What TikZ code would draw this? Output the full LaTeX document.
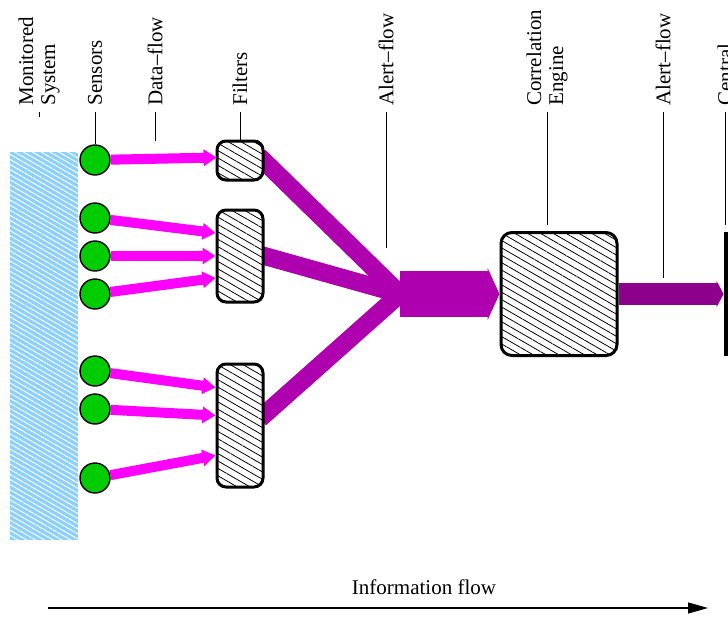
\documentclass[tikz,border=0pt]{standalone}
\usepackage{fontspec}
\setmainfont{Liberation Serif}
\usetikzlibrary{arrows.meta,patterns.meta,backgrounds,calc}

\definecolor{skyblue}{RGB}{140,208,255}
\definecolor{sensorgreen}{RGB}{0,204,0}
\definecolor{dataflow}{RGB}{255,0,255}
\definecolor{alertflow}{RGB}{175,0,175}
\definecolor{alertdark}{RGB}{140,0,140}

\begin{document}
\begin{tikzpicture}[x=0.5pt,y=-0.5pt,
    every node/.style={font=\fontsize{10.5}{11}\selectfont},
    vlabel/.style={rotate=90,anchor=west,inner sep=0pt,align=left},
    leader/.style={line width=0.5pt},
    sensor/.style={circle,draw,line width=0.7pt,fill=sensorgreen,minimum size=15pt,inner sep=0pt},
    filterbox/.style={rectangle,rounded corners=4.5pt,draw,line width=1.5pt,minimum width=23pt,inner sep=0pt,
        preaction={fill=white},pattern={Lines[angle=-30,distance=3.2pt,line width=0.4pt]}},
    datapipe/.style={dataflow,line width=5pt,-{Triangle[length=6.5pt,width=8pt]}},
    alertpipe/.style={alertflow,line width=9pt},
]
        \useasboundingbox (0,0) rectangle (728,616);

        % Monitored system, hatched in white
        \node[rectangle,minimum width=34pt,minimum height=194pt,inner sep=0pt,
            preaction={fill=skyblue},pattern={Lines[angle=-30,distance=2.2pt,line width=0.5pt]},
            pattern color=white] (system) at (44,346) {};

        % Sensors
        \foreach \name/\y in {s1/160,s2/218,s3/256,s4/294,s5/371,s6/409,s7/478}
            \node[sensor] (\name) at (95,\y) {};

        % Filters and the correlation engine
        \node[filterbox,minimum height=19.5pt] (f1) at (240,160.5) {};
        \node[filterbox,minimum height=46pt] (f2) at (240,256) {};
        \node[filterbox,minimum height=61.5pt] (f3) at (240,425.5) {};
        \node[filterbox,minimum width=58pt,minimum height=61.5pt,rounded corners=5.5pt] (engine) at (559,294) {};

        % Central (cut by the page edge)
        \node[fill=black,minimum width=8pt,minimum height=62pt,inner sep=0pt] (central) at (732,294) {};

        % Data-flow from sensors to filters
        \draw[datapipe] (s1) -- ($(f1.west)+(0,-3)$);
        \draw[datapipe] (s2) -- ($(f2.west)+(0,-23)$);
        \draw[datapipe] (s3) -- (f2.west);
        \draw[datapipe] (s4) -- ($(f2.west)+(0,22)$);
        \draw[datapipe] (s5) -- ($(f3.west)+(0,-38)$);
        \draw[datapipe] (s6) -- ($(f3.west)+(0,-10)$);
        \draw[datapipe] (s7) -- ($(f3.west)+(0,30)$);

        % Alert-flow: filters merge into one stream
        \coordinate (merge) at (400,294);
        \begin{pgfonlayer}{background}
            \draw[alertpipe,shorten <=-3pt] (f1.east) -- (merge);
            \draw[alertpipe,shorten <=-3pt] (f2.east) -- (merge);
            \draw[alertpipe,shorten <=-3pt] ($(f3.east)+(0,-11)$) -- (merge);
        \end{pgfonlayer}
        \draw[alertflow,line width=23pt,-{Triangle[length=6pt,width=26pt]}] (merge) -- (engine.west);
        \draw[alertdark,line width=11pt,-{Triangle[length=3.5pt,width=13pt]}] (engine.east) -- (central.west);

        % Labels along the top
        \node[vlabel] (lsystem) at (39,106) {Monitored\\System};
        \node[vlabel] (lsensors) at (95,106) {Sensors};
        \node[vlabel] (ldata) at (155,106) {Data–flow};
        \node[vlabel] (lfilters) at (240,106) {Filters};
        \node[vlabel] (lalert) at (386,106) {Alert–flow};
        \node[vlabel] (lengine) at (547,106) {Correlation\\Engine};
        \node[vlabel] (lalert2) at (663,106) {Alert–flow};
        \node[vlabel] (lcentral) at (725,106) {Central};

        % Leader lines
        \draw[leader] ([yshift=-3pt]lsystem.west) -- ++(0,5);
        \draw[leader] ([yshift=-3pt]lsensors.west) -- (s1.north);
        \draw[leader] ([yshift=-3pt]ldata.west) -- ++(0,29);
        \draw[leader] ([yshift=-3pt]lfilters.west) -- (f1.north);
        \draw[leader] ([yshift=-3pt]lalert.west) -- ++(0,136);
        \draw[leader] ([yshift=-3pt]lengine.west) -- ++(0,113);
        \draw[leader] ([yshift=-3pt]lalert2.west) -- ++(0,166);
        \draw[leader] ([yshift=-3pt]lcentral.west) -- ++(0,113);

        % Information flow arrow
        \node (info) at (424,587) {Information flow};
        \coordinate (flowstart) at (48,608);
        \coordinate (flowend) at (708,608);
        \draw[line width=0.6pt,-{Triangle[length=10pt,width=5.5pt]}] (flowstart) -- (flowend);
\end{tikzpicture}
\end{document}
